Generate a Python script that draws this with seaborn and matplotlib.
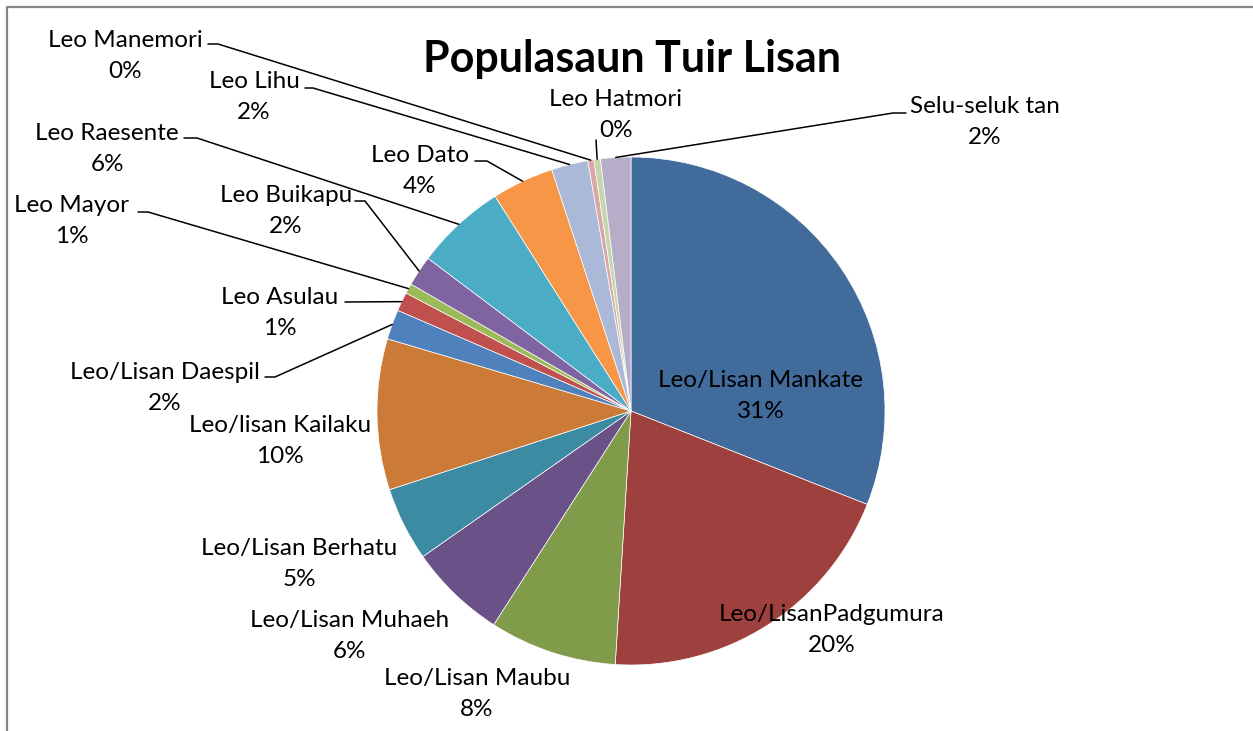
import matplotlib
matplotlib.use("Agg")
import matplotlib.pyplot as plt
import numpy as np
import seaborn as sns

# Language shares (percent of population), clockwise from 12 o'clock
languages = ["Leo/Lisan Mankate", "Leo/LisanPadgumura", "Leo/Lisan Maubu",
             "Leo/Lisan Muhaeh", "Leo/Lisan Berhatu", "Leo/lisan Kailaku",
             "Leo/Lisan Daespil", "Leo Asulau", "Leo Mayor", "Leo Buikapu",
             "Leo Raesente", "Leo Dato", "Leo Lihu", "Leo Manemori",
             "Leo Hatmori", "Selu-seluk tan"]
shares = [31.0, 20.0, 8.1, 6.2, 4.7, 9.6, 1.9, 1.2, 0.64, 1.94,
          5.76, 3.93, 2.33, 0.38, 0.42, 1.92]
slice_colors = ["#416B9B", "#9E413E", "#809C4A", "#6A5187", "#3C8BA2", "#CC7A37",
                "#4F81BD", "#C0504D", "#9BBB59", "#8064A2", "#4BACC6", "#F79646",
                "#A9B9D7", "#D8A7A6", "#C6D6AC", "#B7ADC8"]
title = "Populasaun Tuir Lisan"

# Label layout in pixels (block centre) and leader-line start / elbow
W, H = 1253, 731
label_xy = [(761, 396), (832, 630), (477, 694), (350, 636), (299, 564), (280, 441),
            (165, 388), (280, 313), (72, 221), (286, 211), (107, 149), (420, 171),
            (254, 97), (125, 56), (616, 115), (985, 122)]
leaders = {
    "Leo/Lisan Daespil": [(265, 377), (275, 377)],
    "Leo Asulau": [(345, 302)],
    "Leo Mayor": [(138, 212), (148, 212)],
    "Leo Buikapu": [(355, 201), (365, 201)],
    "Leo Raesente": [(184, 138), (197, 138)],
    "Leo Dato": [(475, 161), (487, 161)],
    "Leo Lihu": [(305, 88), (313, 88)],
    "Leo Manemori": [(208, 44), (218, 44)],
    "Leo Hatmori": [(596, 140)],
    "Selu-seluk tan": [(906, 113), (893, 113)],
}

sns.set_theme(style="white")
plt.rcParams["font.family"] = ["Lato", "DejaVu Sans"]

fig = plt.figure(figsize=(W / 100, H / 100), dpi=100)
cx, cy, R = 631, 411, 254
ax = fig.add_axes([(cx - R) / W, (H - cy - R) / H, 2 * R / W, 2 * R / H])
wedges, _ = ax.pie(shares, colors=slice_colors, startangle=90, counterclock=False,
                   radius=1, wedgeprops=dict(edgecolor="white", linewidth=0.5))
ax.set_xlim(-1, 1)
ax.set_ylim(-1, 1)
ax.apply_aspect()

ov = fig.add_axes([0, 0, 1, 1])
ov.set_xlim(0, W)
ov.set_ylim(H, 0)
ov.axis("off")

total = sum(shares)
for name, val, w, (lx, ly) in zip(languages, shares, wedges, label_xy):
    ov.text(lx, ly, f"{name}\n{val / total * 100:.0f}%", ha="center", va="center",
            fontsize=17.5, color="black", linespacing=1.6)
    if name in leaders:
        mid = np.deg2rad((w.theta1 + w.theta2) / 2)
        disp = ax.transData.transform((np.cos(mid), np.sin(mid)))
        ex, ey = ov.transData.inverted().transform(disp)
        pts = leaders[name] + [(ex, ey)]
        ov.plot([p[0] for p in pts], [p[1] for p in pts], color="black", lw=1.1)

ov.text(632, 72, title, ha="center", va="baseline", fontsize=31,
        fontweight="bold", color="black")

# chart frame
ov.plot([7, 7, W + 5], [H + 5, 7, 7], color="#868686", lw=1.6, clip_on=False)

fig.savefig("out.png", dpi=100)
